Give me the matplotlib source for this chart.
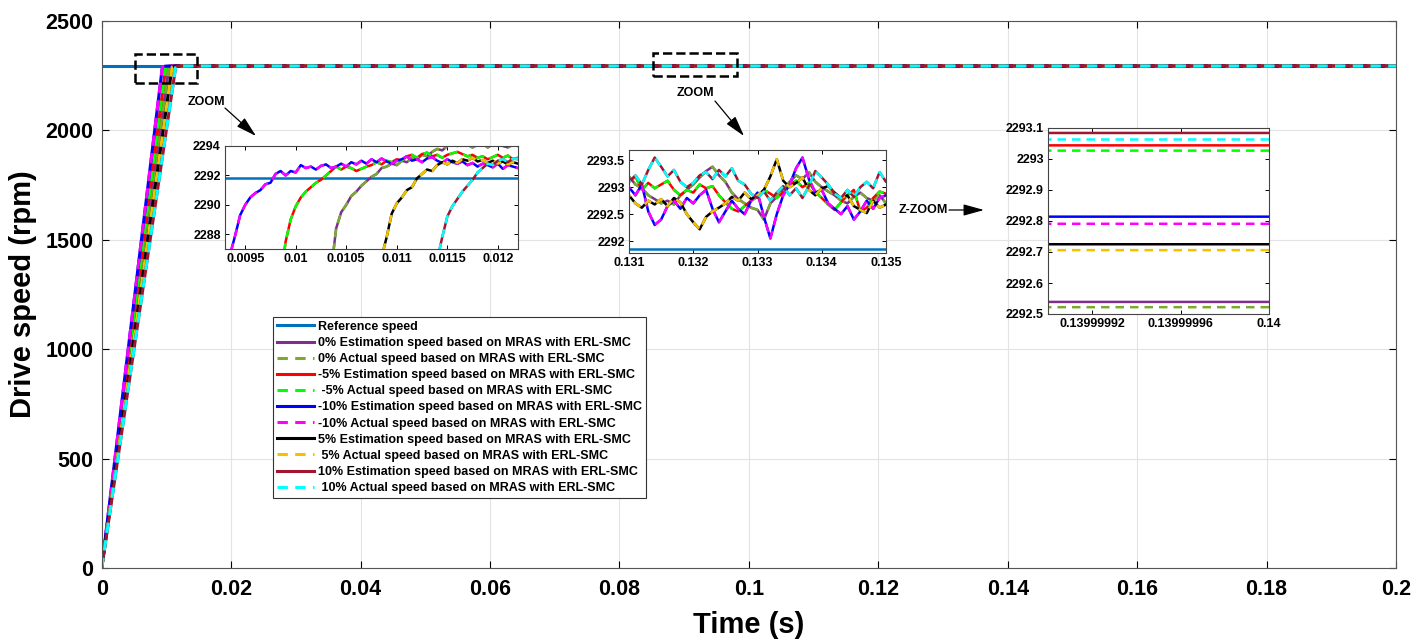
import numpy as np
import matplotlib
matplotlib.use("Agg")
import matplotlib.pyplot as plt
from matplotlib.patches import Rectangle
from matplotlib.ticker import FuncFormatter

plt.rcParams['font.family'] = ['Liberation Sans', 'DejaVu Sans']
plt.rcParams['font.weight'] = 'bold'

W, H = 1416, 642

# ---- data ----
ref_speed = 2291.85  # rpm

# sample times in the start-up zoom window (s)
t_zoom = [0.00940, 0.00945, 0.00950, 0.00955, 0.00960, 0.00965, 0.00970, 0.00975,
          0.00980, 0.00985, 0.00990, 0.00995, 0.01000, 0.01005, 0.01010, 0.01015,
          0.01020, 0.01025, 0.01030, 0.01035, 0.01040, 0.01045, 0.01050, 0.01055,
          0.01060, 0.01065, 0.01070, 0.01075, 0.01080, 0.01085, 0.01090, 0.01095,
          0.01100, 0.01105, 0.01110, 0.01115, 0.01120, 0.01125, 0.01130, 0.01135,
          0.01140, 0.01145, 0.01150, 0.01155, 0.01160, 0.01165, 0.01170, 0.01175,
          0.01180, 0.01185, 0.01190, 0.01195, 0.01200, 0.01205, 0.01210, 0.01215,
          0.01220]

# sample times in the steady-state zoom window (s)
t_ss = [0.1310, 0.1311, 0.1312, 0.1313, 0.1314, 0.1315, 0.1316, 0.1317, 0.1318, 0.1319,
        0.1320, 0.1321, 0.1322, 0.1323, 0.1324, 0.1325, 0.1326, 0.1327, 0.1328, 0.1329,
        0.1330, 0.1331, 0.1332, 0.1333, 0.1334, 0.1335, 0.1336, 0.1337, 0.1338, 0.1339,
        0.1340, 0.1341, 0.1342, 0.1343, 0.1344, 0.1345, 0.1346, 0.1347, 0.1348, 0.1349,
        0.1350]

t_end = [0.1399999, 0.14, 0.2]

# time where each case's ramp enters the zoom window (at 2287 rpm)
entry_t = {'0': 0.010376, '-5': 0.00989, '-10': 0.009365, '5': 0.01087, '10': 0.011424}
entry_v = 2287.0

# start-up (zoom window) speeds, last samples of t_zoom
up_m10 = [2287.9, 2289.3, 2290.0, 2290.5, 2290.8, 2291.0, 2291.4, 2291.5, 2292.1, 2292.3,
          2292.0, 2292.3, 2292.2, 2292.7, 2292.5, 2292.6, 2292.4, 2292.65, 2292.75, 2292.5,
          2292.6, 2292.8, 2292.6, 2292.9, 2292.75, 2293.0, 2292.8, 2293.1, 2292.9, 2293.15,
          2292.95, 2292.8, 2293.0, 2293.1, 2293.3, 2293.0, 2293.1, 2292.9, 2293.15, 2293.25,
          2293.0, 2292.85, 2293.1, 2292.9, 2292.8, 2292.95, 2292.7, 2292.85, 2292.6, 2292.8,
          2292.7, 2292.55, 2292.8, 2292.45, 2292.7, 2292.6, 2292.5]
up_m5 = [2287.5, 2289.0, 2289.9, 2290.5, 2290.9, 2291.2, 2291.5, 2291.7, 2292.0, 2292.3,
         2292.6, 2292.4, 2292.6, 2292.5, 2292.3, 2292.45, 2292.6, 2292.7, 2292.9, 2292.75,
         2293.0, 2292.9, 2293.1, 2293.0, 2293.3, 2293.4, 2293.2, 2293.45, 2293.55, 2293.3,
         2293.4, 2293.2, 2293.4, 2293.5, 2293.6, 2293.45, 2293.3, 2293.4, 2293.2, 2293.3,
         2293.1, 2293.25, 2293.4, 2293.2, 2293.35, 2293.1, 2293.2]
up_0 = [2288.4, 2289.5, 2290.0, 2290.6, 2290.9, 2291.3, 2291.6, 2291.9, 2292.1, 2292.5,
        2292.6, 2292.8, 2292.7, 2293.0, 2292.9, 2293.2, 2293.1, 2293.4, 2293.3, 2293.6,
        2293.8, 2293.7, 2294.0, 2294.2, 2294.0, 2294.2, 2294.1, 2293.9, 2294.1, 2294.2,
        2293.9, 2294.1, 2294.2, 2294.0, 2293.9, 2294.1, 2294.0]
up_5 = [2287.8, 2289.4, 2290.1, 2290.5, 2291.0, 2291.2, 2291.8, 2292.1, 2292.4, 2292.3,
        2292.7, 2292.9, 2292.75, 2293.0, 2292.85, 2293.1, 2293.0, 2293.2, 2292.95, 2293.05,
        2292.85, 2293.0, 2292.8, 2292.95, 2292.75, 2292.9, 2292.8]
up_10 = [2287.8, 2289.2, 2289.9, 2290.4, 2290.9, 2291.3, 2291.7, 2292.2, 2292.5, 2292.8,
         2292.7, 2293.0, 2293.1, 2292.9, 2293.15, 2293.1]

# steady-state speeds on t_ss
ss_m10 = [2293.00, 2292.85, 2293.05, 2292.55, 2292.30, 2292.40, 2292.65, 2292.75, 2292.60, 2292.80,
          2292.70, 2292.85, 2292.95, 2292.60, 2292.35, 2292.55, 2292.75, 2292.60, 2292.50, 2292.75,
          2292.90, 2292.45, 2292.05, 2292.50, 2292.85, 2293.05, 2293.35, 2293.55, 2293.15, 2292.90,
          2292.95, 2292.70, 2292.60, 2292.50, 2292.65, 2292.40, 2292.55, 2292.75, 2292.60, 2292.80,
          2292.85]
ss_m5 = [2293.10, 2293.20, 2292.95, 2293.08, 2292.98, 2293.05, 2293.12, 2292.95, 2292.85, 2292.95,
         2292.90, 2293.05, 2292.98, 2293.02, 2292.85, 2292.72, 2292.60, 2292.55, 2292.65, 2292.75,
         2292.82, 2292.95, 2292.88, 2292.80, 2292.90, 2293.05, 2293.12, 2293.00, 2293.08, 2292.92,
         2292.80, 2292.68, 2292.58, 2292.72, 2292.85, 2292.95, 2292.55, 2292.62, 2292.80, 2292.92,
         2292.88]
ss_0 = [2293.20, 2293.05, 2292.98, 2292.85, 2292.78, 2292.70, 2292.75, 2292.68, 2292.85, 2292.95,
        2293.05, 2293.18, 2293.30, 2293.38, 2293.22, 2293.10, 2292.90, 2292.78, 2292.70, 2292.62,
        2292.58, 2292.40, 2292.70, 2292.82, 2292.95, 2293.10, 2293.22, 2293.15, 2293.28, 2293.10,
        2293.00, 2292.92, 2292.85, 2292.75, 2292.70, 2292.82, 2292.90, 2292.80, 2292.75, 2292.85,
        2292.70]
ss_5 = [2292.85, 2292.70, 2292.62, 2292.75, 2292.68, 2292.78, 2292.65, 2292.80, 2292.72, 2292.50,
        2292.35, 2292.22, 2292.45, 2292.55, 2292.62, 2292.70, 2292.82, 2292.75, 2292.90, 2292.78,
        2292.85, 2292.95, 2293.20, 2293.52, 2293.12, 2293.00, 2293.08, 2293.18, 2292.95, 2292.85,
        2292.98, 2293.02, 2292.90, 2292.80, 2292.85, 2292.65, 2292.58, 2292.52, 2292.75, 2292.62,
        2292.68]
ss_10 = [2293.10, 2293.22, 2293.05, 2293.32, 2293.55, 2293.38, 2293.20, 2293.32, 2293.10, 2293.00,
         2293.08, 2293.22, 2293.28, 2293.15, 2293.32, 2293.20, 2293.35, 2293.12, 2293.05, 2292.88,
         2292.80, 2292.92, 2292.75, 2292.90, 2293.02, 2292.85, 2292.98, 2292.80, 2293.02, 2293.30,
         2293.18, 2293.05, 2292.88, 2292.80, 2292.95, 2292.82, 2293.00, 2293.10, 2292.98, 2293.28,
         2293.10]

# final speeds near t = 0.14 s (estimation, actual)
final_0 = (2292.539, 2292.522)
final_m5 = (2293.044, 2293.027)
final_m10 = (2292.814, 2292.791)
final_5 = (2292.725, 2292.706)
final_10 = (2293.084, 2293.063)

labels = ["Reference speed",
          "0% Estimation speed based on MRAS with ERL-SMC",
          "0% Actual speed based on MRAS with ERL-SMC",
          "-5% Estimation speed based on MRAS with ERL-SMC",
          " -5% Actual speed based on MRAS with ERL-SMC",
          "-10% Estimation speed based on MRAS with ERL-SMC",
          "-10% Actual speed based on MRAS with ERL-SMC",
          "5% Estimation speed based on MRAS with ERL-SMC",
          " 5% Actual speed based on MRAS with ERL-SMC",
          "10% Estimation speed based on MRAS with ERL-SMC",
          " 10% Actual speed based on MRAS with ERL-SMC"]
colors = ['#0072BD', '#7E2F8E', '#77AC30', '#FF0000', '#00FF00', '#0000FF',
          '#FF00FF', '#000000', '#F2C200', '#A2142F', '#00FFFF']

# ---- build the series ----
def build(key, up, ss, final):
    t = [0.0, entry_t[key]] + t_zoom[len(t_zoom) - len(up):] + t_ss + t_end
    v = [0.0, entry_v] + up + ss + [final] * len(t_end)
    return np.array(t), np.array(v)

series = [(np.array([0.0, 0.2]), np.array([ref_speed, ref_speed]))]
for key, up, ss, fin in [('0', up_0, ss_0, final_0), ('-5', up_m5, ss_m5, final_m5),
                         ('-10', up_m10, ss_m10, final_m10), ('5', up_5, ss_5, final_5),
                         ('10', up_10, ss_10, final_10)]:
    series.append(build(key, up, ss, fin[0]))
    series.append(build(key, up, ss, fin[1]))


def draw(ax, lw):
    hs = []
    for i, (t, v) in enumerate(series):
        if i > 0 and i % 2 == 0:
            h, = ax.plot(t, v, color=colors[i], lw=lw, dashes=(3.4, 2.4), label=labels[i])
        else:
            h, = ax.plot(t, v, color=colors[i], lw=lw, label=labels[i])
        hs.append(h)
    return hs


fmt = FuncFormatter(lambda x, p: '%.10g' % x)

fig = plt.figure(figsize=(W / 100, H / 100), dpi=100)

# main axes
ax = fig.add_axes([101.7 / W, 1 - 568 / H, (1396 - 101.7) / W, (568 - 20.7) / H])
handles = draw(ax, 2.2)
ax.set_xlim(0, 0.2)
ax.set_ylim(0, 2500)
ax.set_xticks(np.arange(0, 0.2001, 0.02))
ax.set_yticks(np.arange(0, 2501, 500))
ax.xaxis.set_major_formatter(fmt)
ax.grid(True, color='#e3e3e3', lw=0.8)
ax.tick_params(direction='in', top=True, right=True, length=5, labelsize=15.5, width=0.8)
ax.tick_params(axis='x', pad=8)
ax.tick_params(axis='y', pad=6)
for s in ax.spines.values():
    s.set_color('#555555')
    s.set_linewidth(0.8)
ax.set_xlabel("Time (s)", fontsize=21, fontweight='bold', labelpad=8)
ax.set_ylabel("Drive speed (rpm)", fontsize=21, fontweight='bold', labelpad=6)

ax.add_patch(Rectangle((0.00515, 2215), 0.00959, 133, fill=False, ls='--', lw=1.8,
                       color='black', zorder=5))
ax.add_patch(Rectangle((0.08512, 2247), 0.01299, 105, fill=False, ls='--', lw=1.8,
                       color='black', zorder=5))

leg = ax.legend(handles=handles, loc='upper left', bbox_to_anchor=(273 / W, 1 - 317 / H),
                bbox_transform=fig.transFigure, fontsize=9, fancybox=False,
                edgecolor='#333333', framealpha=1, borderpad=0.3, labelspacing=0.33,
                handlelength=3.0, handletextpad=0.3, borderaxespad=0)
leg.get_frame().set_linewidth(0.8)


def inset(box, xlim, ylim, xticks, yticks):
    l, r, t, b = box
    a = fig.add_axes([l / W, 1 - b / H, (r - l) / W, (b - t) / H])
    draw(a, 1.8)
    a.set_xlim(*xlim)
    a.set_ylim(*ylim)
    a.set_xticks(xticks)
    a.set_yticks(yticks)
    a.xaxis.set_major_formatter(fmt)
    a.yaxis.set_major_formatter(fmt)
    a.tick_params(direction='in', top=True, right=True, length=3, labelsize=9, pad=3, width=0.7)
    for s in a.spines.values():
        s.set_color('#444444')
        s.set_linewidth(0.8)
    a.set_facecolor('white')
    return a


inset((225, 518, 146, 249), (0.0093, 0.0122), (2287, 2294),
      [0.0095, 0.01, 0.0105, 0.011, 0.0115, 0.012], [2288, 2290, 2292, 2294])
inset((629, 886, 150, 253), (0.131, 0.135), (2291.78, 2293.69),
      [0.131, 0.132, 0.133, 0.134, 0.135], [2292, 2292.5, 2293, 2293.5])
inset((1048, 1269, 128, 314), (0.1399999, 0.14), (2292.5, 2293.1),
      [0.13999992, 0.13999996, 0.14], [2292.5, 2292.6, 2292.7, 2292.8, 2292.9, 2293, 2293.1])


def fp(x, y):
    return (x / W, 1 - y / H)


arrow = dict(arrowstyle='-|>,head_length=0.9,head_width=0.25', color='black', lw=0.9,
             mutation_scale=14, shrinkA=0, shrinkB=0)
fig.text(*fp(206, 102), "ZOOM", ha='center', va='center', fontsize=9, fontweight='bold')
ax.annotate('', xy=fp(256, 136), xytext=fp(225, 108), xycoords='figure fraction',
            textcoords='figure fraction', arrowprops=arrow)
fig.text(*fp(695, 93), "ZOOM", ha='center', va='center', fontsize=9, fontweight='bold')
ax.annotate('', xy=fp(744, 136), xytext=fp(715, 101), xycoords='figure fraction',
            textcoords='figure fraction', arrowprops=arrow)
fig.text(*fp(948, 210), "Z-ZOOM", ha='right', va='center', fontsize=9, fontweight='bold')
ax.annotate('', xy=fp(984, 210), xytext=fp(949, 210), xycoords='figure fraction',
            textcoords='figure fraction', arrowprops=arrow)

fig.savefig("out.png", dpi=100)
